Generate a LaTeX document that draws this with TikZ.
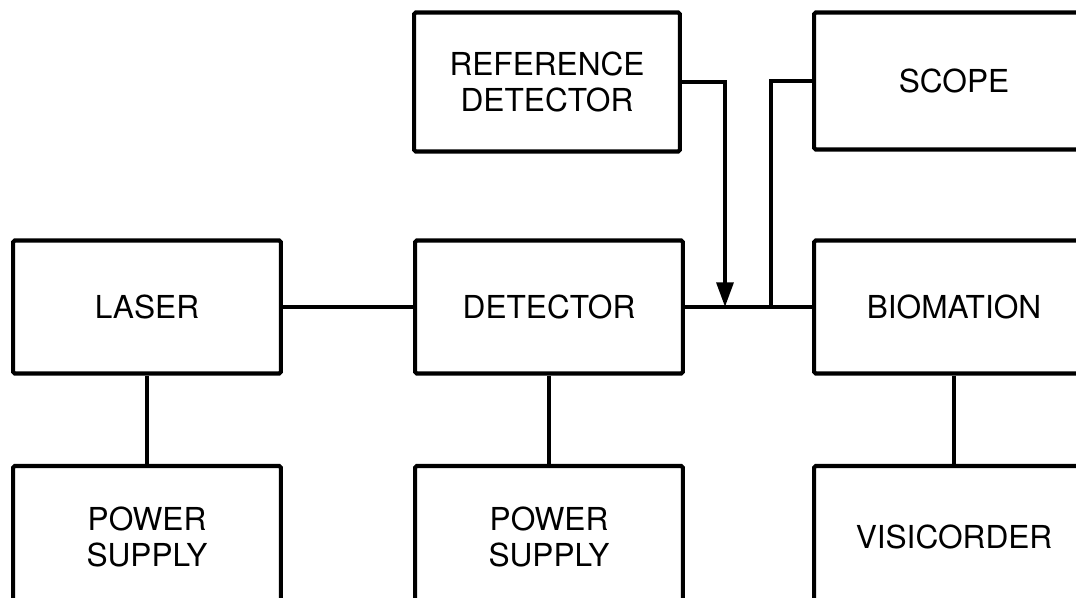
\documentclass[tikz,border=0pt]{standalone}
\usepackage{fontspec}
\setmainfont{TeX Gyre Heros}
\usetikzlibrary{arrows.meta}
\tikzset{
    blk/.style={draw, line width=2.3pt, rounded corners=1pt, align=center,
        font=\fontsize{18}{20}\selectfont, minimum width=5.36cm, minimum height=2.66cm,
        inner sep=0pt},
    wire/.style={line width=2.3pt},
}
\begin{document}
\begin{tikzpicture}[x=0.02cm, y=-0.02cm]
    \useasboundingbox (0,0) rectangle (1076,598);
    \clip (0,0) rectangle (1076,598);
    \node[blk] (laser) at (147,307) {LASER};
    \node[blk, minimum height=2.84cm] (pslaser) at (147,537) {POWER\\SUPPLY};
    \node[blk] (det) at (549,307) {DETECTOR};
    \node[blk, minimum height=2.84cm] (psdet) at (549,537) {POWER\\SUPPLY};
    \node[blk, minimum width=5.32cm, minimum height=2.78cm] (refdet) at (547,82) {REFERENCE\\DETECTOR};
    \node[blk, minimum width=5.6cm, minimum height=2.74cm] (scope) at (954,81) {SCOPE};
    \node[blk, minimum width=5.6cm] (bio) at (954,307) {BIOMATION};
    \node[blk, minimum width=5.6cm, minimum height=2.84cm] (visi) at (954,537) {VISICORDER};
    \coordinate (tapref) at (725,307);
    \coordinate (tapscope) at (771,307);
    \draw[wire] (laser) -- (det);
    \draw[wire] (laser) -- (pslaser);
    \draw[wire] (det) -- (psdet);
    \draw[wire] (det) -- (bio);
    \draw[wire] (bio) -- (visi);
    \draw[wire, -{Triangle[length=14pt,width=9.5pt]}] (refdet.east) -| (tapref);
    \draw[wire] (scope.west) -| (tapscope);
\end{tikzpicture}
\end{document}
